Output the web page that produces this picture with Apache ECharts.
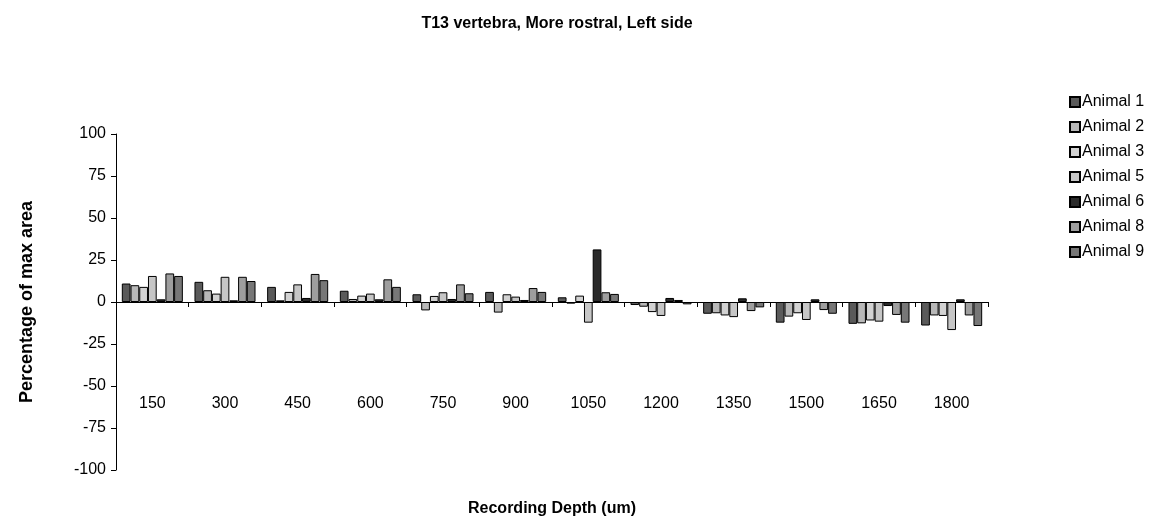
<!DOCTYPE html>
<html>
<head>
<meta charset="utf-8">
<script src="https://cdn.jsdelivr.net/npm/echarts@6/dist/echarts.min.js"></script>
<style>html,body{margin:0;padding:0;background:#fff;}#c{width:1154px;height:528px;}</style>
</head>
<body>
<div id="c"></div>
<script>
const categories = ['150','300','450','600','750','900','1050','1200','1350','1500','1650','1800'];
const animal1 = [11, 12, 9, 6.7, 4.6, 6, 2.8, -1.8, -7, -12.3, -13, -14];
const animal2 = [10, 7, 1, 1.8, -5, -6.3, -1, -2.8, -6.7, -8.7, -12.7, -8];
const animal3 = [9, 5, 6, 3.8, 3.6, 4.6, 3.8, -6, -8, -6.7, -11, -8.3];
const animal5 = [15.5, 15, 10.5, 5, 5.8, 3.2, -12.3, -8.3, -9, -10.7, -11.7, -16.7];
const animal6 = [1.6, 1, 2.4, 1.6, 1.8, 1.2, 31.3, 2.4, 2.2, 1.6, -2.4, 1.6];
const animal8 = [17, 15, 16.7, 13.5, 10.5, 8.3, 5.8, 1.2, -5.4, -4.8, -7.7, -8];
const animal9 = [15.5, 12.5, 13, 9, 5.2, 6, 4.8, -1.4, -3.2, -7, -12.3, -14.3];
const seriesNames = ['Animal 1','Animal 2','Animal 3','Animal 5','Animal 6','Animal 8','Animal 9'];
const seriesData = [animal1, animal2, animal3, animal5, animal6, animal8, animal9];
const colors = ['#5a5a5a','#b8b8b8','#d2d2d2','#c6c6c6','#2a2a2a','#9e9e9e','#777777'];
const yTicks = {min: -100, max: 100, interval: 25};

const font = 'Liberation Sans, Arial, sans-serif';
const chart = echarts.init(document.getElementById('c'), null, {renderer: 'canvas'});
chart.setOption({
  animation: false,
  backgroundColor: '#ffffff',
  color: colors,
  title: {
    text: 'T13 vertebra, More rostral, Left side',
    left: 552, textAlign: 'center', top: 11,
    textStyle: {fontFamily: font, fontSize: 16, fontWeight: 'bold', color: '#000'}
  },
  legend: {
    orient: 'vertical',
    left: 1064, top: 89,
    itemWidth: 10, itemHeight: 10, itemGap: 9,
    icon: 'rect',
    textStyle: {fontFamily: font, fontSize: 16, color: '#000', padding: [0,0,0,-3]},
    data: seriesNames
  },
  grid: {left: 116, right: 166, top: 134, bottom: 58, containLabel: false, outerBoundsMode: 'none'},
  xAxis: {
    type: 'category',
    data: categories,
    axisLine: {onZero: true, lineStyle: {color: '#000', width: 1}},
    axisTick: {show: true, length: 5, lineStyle: {color: '#000'}},
    axisLabel: {margin: -74, fontFamily: font, fontSize: 16, color: '#000'},
    splitLine: {show: false},
    name: 'Recording Depth (um)',
    nameLocation: 'middle',
    nameGap: 31,
    nameTextStyle: {fontFamily: font, fontSize: 16, fontWeight: 'bold', color: '#000'}
  },
  yAxis: {
    type: 'value',
    min: yTicks.min, max: yTicks.max, interval: yTicks.interval,
    axisLine: {show: true, lineStyle: {color: '#000', width: 1}},
    axisTick: {show: true, length: 5, lineStyle: {color: '#000'}},
    axisLabel: {margin: 10, fontFamily: font, fontSize: 16, color: '#000'},
    splitLine: {show: false},
    name: 'Percentage of max area',
    nameLocation: 'middle',
    nameGap: 80,
    nameTextStyle: {fontFamily: font, fontSize: 18, fontWeight: 'bold', color: '#000'}
  },
  series: seriesNames.map((n, i) => ({
    name: n,
    type: 'bar',
    data: seriesData[i],
    barGap: '0%',
    barCategoryGap: '16%',
    itemStyle: {color: colors[i], borderColor: '#000', borderWidth: 1}
  }))
});
</script>
</body>
</html>
